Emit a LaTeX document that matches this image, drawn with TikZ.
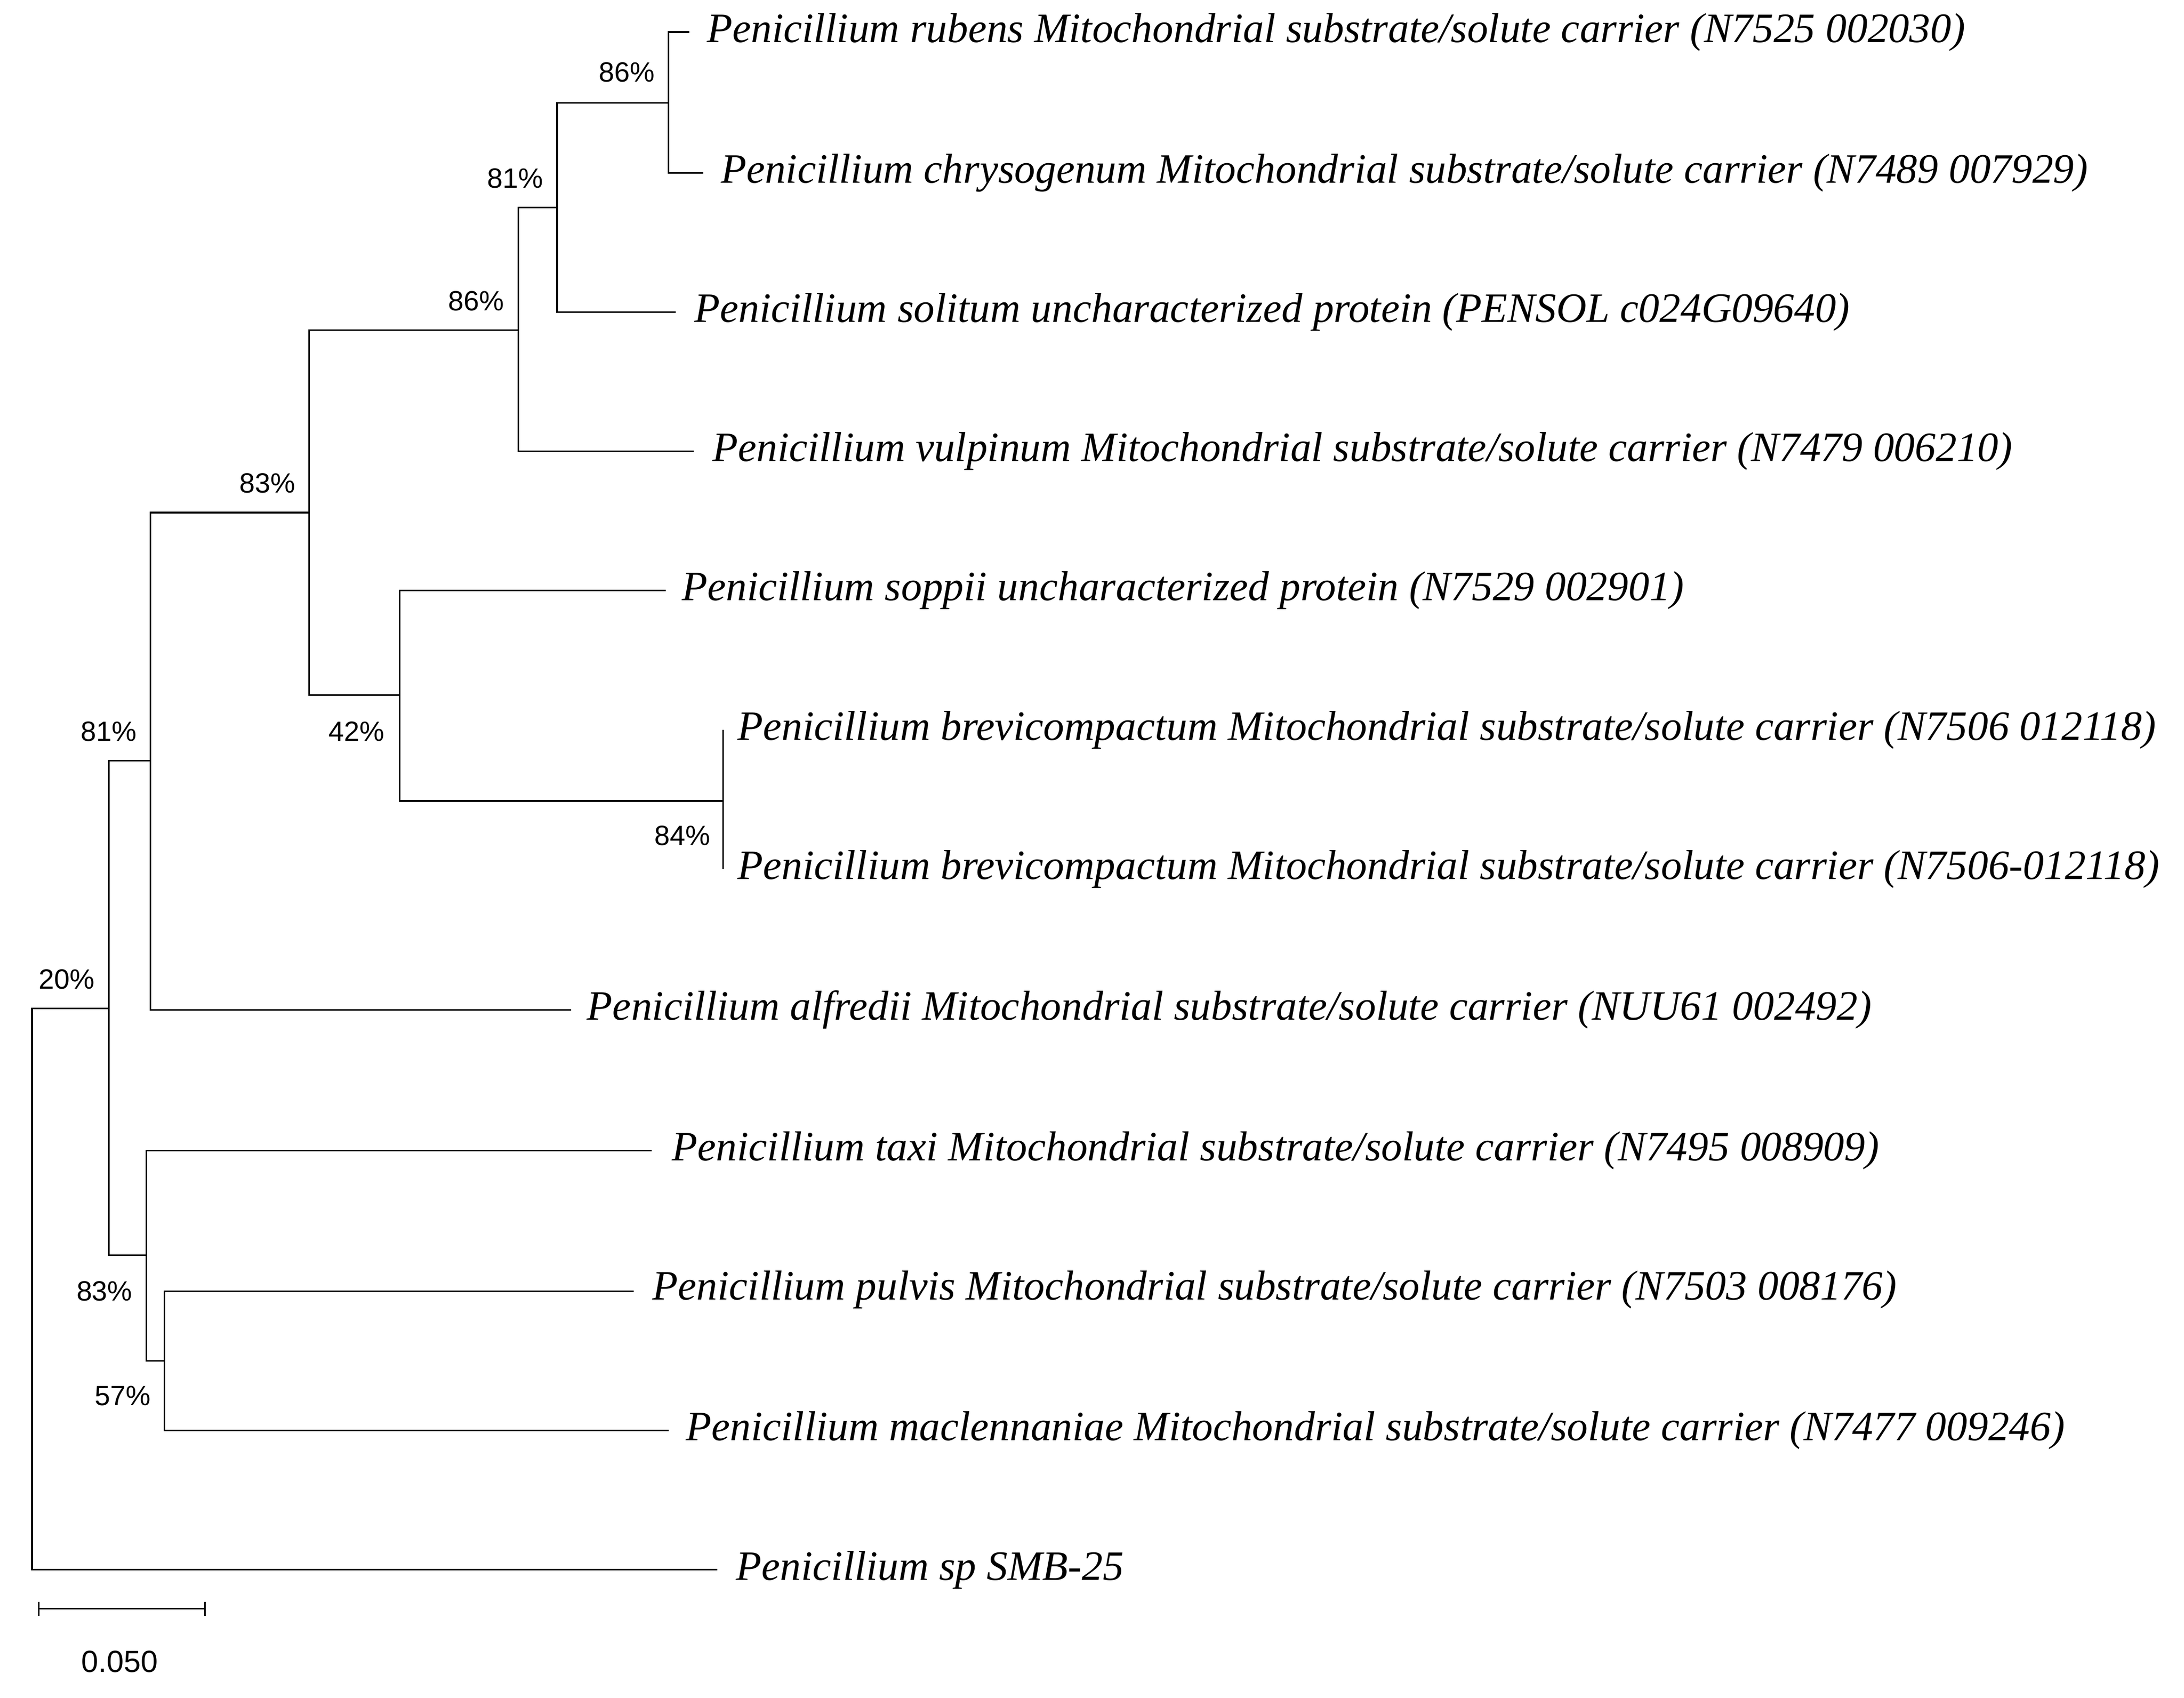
\documentclass[tikz,border=0pt]{standalone}
\usepackage{fontspec}
\setmainfont{Liberation Serif}
\newfontfamily\pctfont{Liberation Sans}
\begin{document}
\begin{tikzpicture}[x=1pt,y=-1pt,line width=1.1pt,
  leaf/.style={anchor=west,inner sep=0pt,font=\fontsize{30}{32}\selectfont\itshape},
  pct/.style={inner sep=0pt,font=\pctfont\fontsize{20}{22}\selectfont}]
\useasboundingbox (0,0) rectangle (1568,1219);
% leaves
\node[leaf] (l1) at (507,23) {Penicillium rubens Mitochondrial substrate/solute carrier (N7525 002030)};
\node[leaf] (l2) at (517,124) {Penicillium chrysogenum Mitochondrial substrate/solute carrier (N7489 007929)};
\node[leaf] (l3) at (498,224) {Penicillium solitum uncharacterized protein (PENSOL c024G09640)};
\node[leaf] (l4) at (511,324) {Penicillium vulpinum Mitochondrial substrate/solute carrier (N7479 006210)};
\node[leaf] (l5) at (489,424) {Penicillium soppii uncharacterized protein (N7529 002901)};
\node[leaf] (l6) at (529,524) {Penicillium brevicompactum Mitochondrial substrate/solute carrier (N7506 012118)};
\node[leaf] (l7) at (529,624) {Penicillium brevicompactum Mitochondrial substrate/solute carrier (N7506-012118)};
\node[leaf] (l8) at (421,725) {Penicillium alfredii Mitochondrial substrate/solute carrier (NUU61 002492)};
\node[leaf] (l9) at (482,826) {Penicillium taxi Mitochondrial substrate/solute carrier (N7495 008909)};
\node[leaf] (l10) at (468,926) {Penicillium pulvis Mitochondrial substrate/solute carrier (N7503 008176)};
\node[leaf] (l11) at (492,1027) {Penicillium maclennaniae Mitochondrial substrate/solute carrier (N7477 009246)};
\node[leaf] (l12) at (528,1127) {Penicillium sp SMB-25};
% tree
\draw (495,23) -| (480,124) -- (505,124);
\draw (480,74) -| (400,224) -- (485,224);
\draw (400,149) -| (372,324) -- (498,324);
\draw (372,237) -| (222,499) -| (287,424) -- (478,424);
\draw (287,499) |- (519,575);
\draw (519,524) -- (519,624);
\draw (222,368) -| (108,725) -- (410,725);
\draw (108,546) -| (78,901) -- (105,901);
\draw (468,826) -| (105,977) -- (118,977);
\draw (455,927) -| (118,1027) -- (480,1027);
\draw (78,724) -| (23,1127) -- (515,1127);
% support
\node[pct] at (450,52) {86\%};
\node[pct] at (370,128) {81\%};
\node[pct] at (342,216) {86\%};
\node[pct] at (192,347) {83\%};
\node[pct] at (256,525) {42\%};
\node[pct] at (490,600) {84\%};
\node[pct] at (78,525) {81\%};
\node[pct] at (48,703) {20\%};
\node[pct] at (75,927) {83\%};
\node[pct] at (88,1002) {57\%};
% scale
\draw (28,1155) -- (147,1155);
\draw (28,1150) -- (28,1160);
\draw (147,1150) -- (147,1160);
\node[pct,font=\pctfont\fontsize{22}{24}\selectfont] at (86,1193) {0.050};
\end{tikzpicture}
\end{document}
